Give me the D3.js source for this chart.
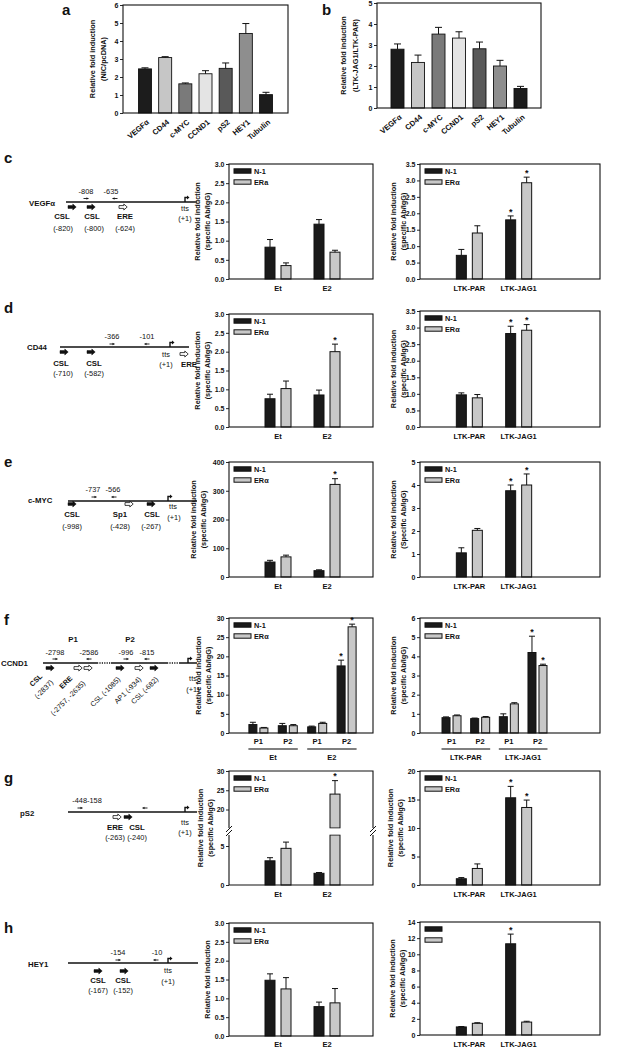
<!DOCTYPE html>
<html><head><meta charset="utf-8">
<script src="https://cdn.jsdelivr.net/npm/d3@7"></script>
<style>body{margin:0;background:#fff}svg{display:block;opacity:0.995}text{font-family:"Liberation Sans",Arial,Helvetica,sans-serif;fill:#111}</style>
</head><body><svg id="c" width="636" height="1050"></svg>
<script>
// ---------------- DATA ----------------
const genes = ["VEGFα","CD44","c-MYC","CCND1","pS2","HEY1","Tubulin"];
const geneColors = ["#1c1c1c","#c6c6c6","#7a7a7a","#e4e4e4","#595959","#8e8e8e","#1c1c1c"];
const nicValues = [2.45,3.08,1.62,2.18,2.48,4.42,1.02];
const nicErrors = [0.06,0.05,0.05,0.17,0.3,0.55,0.13];
const jagValues = [2.8,2.17,3.52,3.33,2.82,2.0,0.93];
const jagErrors = [0.25,0.35,0.32,0.3,0.32,0.27,0.1];

const seriesNames = ["N-1","ERα"];
const seriesNamesVegf = ["N-1","ERa"];
const treatCats = ["Et","E2"];
const cellCats = ["LTK-PAR","LTK-JAG1"];
const promoterCats = ["P1","P2"];

// c VEGFα
const vegfTreatN1 = [0.83,1.43], vegfTreatN1Err = [0.2,0.12];
const vegfTreatER = [0.35,0.7],  vegfTreatERErr = [0.07,0.05];
const vegfCellN1 = [0.72,1.8],   vegfCellN1Err = [0.18,0.12];
const vegfCellER = [1.4,2.93],   vegfCellERErr = [0.22,0.17];
// d CD44
const cd44TreatN1 = [0.75,0.85], cd44TreatN1Err = [0.12,0.13];
const cd44TreatER = [1.02,2.0],  cd44TreatERErr = [0.2,0.2];
const cd44CellN1 = [0.97,2.82],  cd44CellN1Err = [0.06,0.22];
const cd44CellER = [0.88,2.92],  cd44CellERErr = [0.1,0.17];
// e c-MYC
const mycTreatN1 = [52,22],   mycTreatN1Err = [6,3];
const mycTreatER = [70,322],  mycTreatERErr = [6,20];
const mycCellN1 = [1.05,3.75], mycCellN1Err = [0.22,0.25];
const mycCellER = [2.03,4.0],  mycCellERErr = [0.08,0.48];
// f CCND1 (Et P1, Et P2, E2 P1, E2 P2) / (PAR P1, PAR P2, JAG1 P1, JAG1 P2)
const ccndTreatN1 = [2.2,1.9,1.6,17.5],  ccndTreatN1Err = [0.6,0.6,0.2,1.5];
const ccndTreatER = [1.3,1.9,2.5,27.7],  ccndTreatERErr = [0.15,0.3,0.3,0.7];
const ccndCellN1 = [0.8,0.75,0.85,4.2],  ccndCellN1Err = [0.04,0.03,0.15,0.85];
const ccndCellER = [0.9,0.82,1.52,3.52], ccndCellERErr = [0.04,0.04,0.06,0.07];
// g pS2
const ps2TreatN1 = [3.1,1.5],  ps2TreatN1Err = [0.4,0.1];
const ps2TreatER = [4.7,24],   ps2TreatERErr = [0.8,3.5];
const ps2CellN1 = [1.1,15.3],  ps2CellN1Err = [0.2,2.0];
const ps2CellER = [2.9,13.6],  ps2CellERErr = [0.8,1.3];
// h HEY1
const heyTreatN1 = [1.48,0.78], heyTreatN1Err = [0.17,0.12];
const heyTreatER = [1.25,0.88], heyTreatERErr = [0.3,0.38];
const heyCellN1 = [1.0,11.3],   heyCellN1Err = [0.05,1.2];
const heyCellER = [1.45,1.6],   heyCellERErr = [0.07,0.1];

// significance stars [N-1 flags, ERα flags]
const vegfCellStars = [[0,1],[0,1]];
const cd44TreatStars = [[0,0],[0,1]];
const cd44CellStars = [[0,1],[0,1]];
const mycTreatStars = [[0,0],[0,1]];
const mycCellStars = [[0,1],[0,1]];
const ccndTreatStars = [[0,0,0,1],[0,0,0,1]];
const ccndCellStars = [[0,0,0,1],[0,0,0,1]];
const ps2TreatStars = [[0,0],[0,1]];
const ps2CellStars = [[0,1],[0,1]];
const heyCellStars = [[0,1],[0,0]];

// tick values
const ticks05to30 = [0,0.5,1,1.5,2,2.5,3];
const ticks05to35 = [0,0.5,1,1.5,2,2.5,3,3.5];

// ---------------- DRAWING ----------------
const svg = d3.select("#c");
const INK = "#111";
const SER_FILL = ["#1a1a1a","#c8c8c8"];

function T(x,y,str,o={}){
  const t = svg.append("text").attr("x",x).attr("y",y).attr("dy","0.35em").text(str)
    .attr("font-size",o.size||7.3).attr("font-weight",o.weight||"normal")
    .attr("text-anchor",o.anchor||"middle");
  if(o.rotate!=null) t.attr("transform",`rotate(${o.rotate},${x},${y})`);
  return t;
}

function yAxis(scale, x, ticks, fmt){
  const g = svg.append("g").attr("transform",`translate(${x},0)`)
    .call(d3.axisLeft(scale).tickValues(ticks).tickFormat(fmt).tickSize(3).tickSizeOuter(0).tickPadding(1.5));
  g.select(".domain").remove();
  g.selectAll(".tick line").attr("stroke",INK).attr("stroke-width",0.9);
  g.selectAll(".tick text").attr("font-size",7).attr("font-weight","bold").attr("fill",INK)
    .attr("font-family",'"Liberation Sans",Arial,sans-serif');
  return g;
}

function yTitle(lines, xs, cy){
  lines.forEach((l,i)=>T(xs[i], cy, l, {size:7.3, weight:"bold", rotate:-90}));
}

function errBar(g, cx, yTop, yErr, cap){
  g.append("line").attr("x1",cx).attr("x2",cx).attr("y1",yTop).attr("y2",yErr).attr("stroke",INK).attr("stroke-width",1);
  g.append("line").attr("x1",cx-cap).attr("x2",cx+cap).attr("y1",yErr).attr("y2",yErr).attr("stroke",INK).attr("stroke-width",1);
}

function frame(l,t,r,b){
  svg.append("rect").attr("x",l).attr("y",t).attr("width",r-l).attr("height",b-t)
    .attr("fill","none").attr("stroke",INK).attr("stroke-width",1.1);
}

function panelLetter(x,y,s){ T(x,y,s,{size:15,weight:"bold",anchor:"start"}); }

// simple single-series bar chart (a, b)
function simpleChart(o){
  const x = d3.scalePoint().domain(genes).range([o.left,o.right]).padding(o.pad);
  const y = d3.scaleLinear().domain([0,o.max]).range([o.bottom,o.top]);
  const g = svg.append("g");
  g.selectAll("rect").data(genes).join("rect")
    .attr("x",d=>x(d)-6.5).attr("width",13)
    .attr("y",(d,i)=>y(o.vals[i])).attr("height",(d,i)=>o.bottom-y(o.vals[i]))
    .attr("fill",(d,i)=>geneColors[i]).attr("stroke",INK).attr("stroke-width",0.9);
  genes.forEach((d,i)=>errBar(g, x(d), y(o.vals[i]), y(o.vals[i]+o.errs[i]), 3.5));
  frame(o.left,o.top,o.right,o.bottom);
  yAxis(y, o.left, d3.range(0,o.max+1), d3.format("d"));
  genes.forEach(d=>T(x(d)+3, o.bottom+8, d, {size:7.6, weight:"bold", anchor:"end", rotate:-40}));
  yTitle(o.title, o.titleX, (o.top+o.bottom)/2);
}

// grouped two-series chart
function groupedChart(o){
  const x = d3.scalePoint().domain(o.cats).range(o.xRange).padding(o.pad);
  const y = d3.scaleLinear().domain(o.yDomain).range([o.bottom,o.top]);
  const g = svg.append("g");
  const bw = o.bw||10, off = o.off||8;
  [o.n1,o.er].forEach((vals,s)=>{
    const errs = s===0?o.n1e:o.ere;
    const dx = s===0?-off:off;
    g.append("g").selectAll("rect").data(o.cats).join("rect")
      .attr("x",d=>x(d)+dx-bw/2).attr("width",bw)
      .attr("y",(d,i)=>y(vals[i])).attr("height",(d,i)=>o.bottom-y(vals[i]))
      .attr("fill",SER_FILL[s]).attr("stroke",INK).attr("stroke-width",1);
    o.cats.forEach((d,i)=>{
      const cx = x(d)+dx;
      errBar(g, cx, y(vals[i]), y(vals[i]+errs[i]), 3);
      if(o.stars && o.stars[s][i]) T(cx, y(vals[i]+errs[i])-4.5, "*", {size:9, weight:"bold"});
    });
  });
  frame(o.left,o.top,o.right,o.bottom);
  yAxis(y, o.left, o.ticks, o.fmt);
  yTitle(o.title, o.titleX, (o.top+o.bottom)/2);
  legend(o.left, o.top, o.legendText!==false, o.names||seriesNames);
  if(o.catLabels) o.cats.forEach((d,i)=>T(x(d), o.bottom+(o.labelDy||9), o.catLabels[i], {size:7.5, weight:"bold"}));
  return x;
}

function legend(left, top, withText, names){
  names.forEach((n,s)=>{
    const yy = top+7+s*11;
    svg.append("rect").attr("x",left+5).attr("y",yy-2.2).attr("width",17).attr("height",4.4)
      .attr("fill",SER_FILL[s]).attr("stroke",INK).attr("stroke-width",1);
    if(withText) T(left+25, yy, n, {size:7.3, weight:"bold", anchor:"start"});
  });
}

const fmt1 = d3.format(".1f"), fmt0 = d3.format("d");
const MID = {left:229, right:373, xRange:[229,376], pad:1};
const RGT = {left:420, right:600, xRange:[420,568], pad:1};
const specTitle = ["Relative fold induction","(specific Ab/IgG)"];

// ---- a, b ----
panelLetter(62,10,"a");
simpleChart({left:123,right:288,top:5,bottom:113,pad:1.09,max:6,vals:nicValues,errs:nicErrors,
  title:["Relative fold induction","(NIC/pcDNA)"], titleX:[92,103]});
panelLetter(322,10,"b");
simpleChart({left:377,right:541,top:3,bottom:108,pad:1,max:5,vals:jagValues,errs:jagErrors,
  title:["Relative fold induction","(LTK-JAG1/LTK-PAR)"], titleX:[343,355]});

// ---- rows ----
function rowCharts(r){
  groupedChart(Object.assign({}, MID, {top:r.top,bottom:r.bottom,cats:treatCats,catLabels:treatCats,
    n1:r.tn1,n1e:r.tn1e,er:r.ter,ere:r.tere,stars:r.tstars,yDomain:r.tDomain,ticks:r.tTicks,fmt:r.tFmt,
    title:r.tTitle||specTitle,titleX:r.tTitleX||[197,207],names:r.tNames}));
  groupedChart(Object.assign({}, RGT, {top:r.rTop||r.top,bottom:r.bottom,cats:cellCats,catLabels:cellCats,
    n1:r.cn1,n1e:r.cn1e,er:r.cer,ere:r.cere,stars:r.cstars,yDomain:r.cDomain,ticks:r.cTicks,fmt:r.cFmt,
    title:r.cTitle||specTitle,titleX:[393,403],legendText:r.cLegendText}));
}

rowCharts({top:164,bottom:279,tn1:vegfTreatN1,tn1e:vegfTreatN1Err,ter:vegfTreatER,tere:vegfTreatERErr,
  tDomain:[0,3],tTicks:ticks05to30,tFmt:fmt1,tNames:seriesNamesVegf,
  cn1:vegfCellN1,cn1e:vegfCellN1Err,cer:vegfCellER,cere:vegfCellERErr,cstars:vegfCellStars,
  cDomain:[0,3.5],cTicks:ticks05to35,cFmt:fmt1});
rowCharts({top:314,bottom:427,rTop:311,tn1:cd44TreatN1,tn1e:cd44TreatN1Err,ter:cd44TreatER,tere:cd44TreatERErr,tstars:cd44TreatStars,
  tDomain:[0,3],tTicks:ticks05to30,tFmt:fmt1,
  cn1:cd44CellN1,cn1e:cd44CellN1Err,cer:cd44CellER,cere:cd44CellERErr,cstars:cd44CellStars,
  cDomain:[0,3.5],cTicks:ticks05to35,cFmt:fmt1});
rowCharts({top:462,bottom:577,tn1:mycTreatN1,tn1e:mycTreatN1Err,ter:mycTreatER,tere:mycTreatERErr,tstars:mycTreatStars,
  tDomain:[0,400],tTicks:[0,100,200,300,400],tFmt:fmt0,tTitleX:[193,203],
  cn1:mycCellN1,cn1e:mycCellN1Err,cer:mycCellER,cere:mycCellERErr,cstars:mycCellStars,
  cDomain:[0,5],cTicks:[0,1,2,3,4,5],cFmt:fmt0,cTitle:["Relative fold induction","(Specific Ab/IgG)"]});

// f row (promoter subgroups)
const fKeysT = ["Et-P1","Et-P2","E2-P1","E2-P2"];
const fKeysC = ["PAR-P1","PAR-P2","JAG1-P1","JAG1-P2"];
function fChart(base, keys, groups, n1,n1e,er,ere,stars,domain,ticks,titleX){
  const x = groupedChart(Object.assign({}, base, {top:618,bottom:733,cats:keys,
    n1:n1,n1e:n1e,er:er,ere:ere,stars:stars,yDomain:domain,ticks:ticks,fmt:fmt0,
    title:specTitle,titleX:titleX,bw:8,off:5.5}));
  keys.forEach((k,i)=>T(x(k), 741, promoterCats[i%2], {size:7.5, weight:"bold"}));
  groups.forEach((gname,j)=>{
    const a = x(keys[2*j]), b = x(keys[2*j+1]);
    svg.append("line").attr("x1",a-10).attr("x2",b+10).attr("y1",749).attr("y2",749).attr("stroke","#555").attr("stroke-width",1.6);
    T((a+b)/2, 757, gname, {size:7.5, weight:"bold"});
  });
}
fChart({left:229,right:373,xRange:[229,376],pad:1}, fKeysT, treatCats,
  ccndTreatN1,ccndTreatN1Err,ccndTreatER,ccndTreatERErr,ccndTreatStars,[0,30],[0,5,10,15,20,25,30],[198,208]);
fChart({left:420,right:600,xRange:[420,569],pad:1.1}, fKeysC, cellCats,
  ccndCellN1,ccndCellN1Err,ccndCellER,ccndCellERErr,ccndCellStars,[0,6],[0,1,2,3,4,5,6],[393,403]);

// g row: middle chart with broken axis
(function(){
  const L=229,R=373,TOP=771,BOT=885,gapTop=828,gapBot=835;
  const x = d3.scalePoint().domain(treatCats).range([229,376]).padding(1);
  const yLow = d3.scaleLinear().domain([0,5]).range([BOT,846]);
  const yHigh = d3.scaleLinear().domain([20,30]).range([809.5,TOP]);
  const lowMax = yLow.invert(gapBot), highMin = yHigh.invert(gapTop);
  const Y = v => v<=lowMax ? yLow(v) : yHigh(Math.max(v,highMin));
  const g = svg.append("g");
  [ps2TreatN1, ps2TreatER].forEach((vals,s)=>{
    const errs = s===0?ps2TreatN1Err:ps2TreatERErr, dx = s===0?-8:8;
    treatCats.forEach((c,i)=>{
      const cx = x(c)+dx, v = vals[i];
      if(v<=lowMax){
        g.append("rect").attr("x",cx-5).attr("width",10).attr("y",yLow(v)).attr("height",BOT-yLow(v))
          .attr("fill",SER_FILL[s]).attr("stroke",INK).attr("stroke-width",1);
      } else {
        g.append("rect").attr("x",cx-5).attr("width",10).attr("y",gapBot).attr("height",BOT-gapBot)
          .attr("fill",SER_FILL[s]).attr("stroke",INK).attr("stroke-width",1);
        g.append("rect").attr("x",cx-5).attr("width",10).attr("y",yHigh(v)).attr("height",gapTop-yHigh(v))
          .attr("fill",SER_FILL[s]).attr("stroke",INK).attr("stroke-width",1);
        g.append("rect").attr("x",cx-6).attr("width",12).attr("y",gapTop+0.6).attr("height",gapBot-gapTop-1.2).attr("fill","#fff");
      }
      errBar(g, cx, Y(v), Y(v+errs[i]), 3);
      if(ps2TreatStars[s][i]) T(cx, Y(v+errs[i])-4.5, "*", {size:9, weight:"bold"});
    });
  });
  svg.append("path").attr("fill","none").attr("stroke",INK).attr("stroke-width",1.1)
    .attr("d",`M${L},${gapTop}V${TOP}H${R}V${gapTop}M${L},${gapBot}V${BOT}H${R}V${gapBot}`);
  [L,R].forEach(xx=>{
    [0,4].forEach(k=>svg.append("line").attr("x1",xx-3).attr("x2",xx+3).attr("y1",gapBot+1-k).attr("y2",gapTop-2-k+4)
      .attr("stroke",INK).attr("stroke-width",1));
  });
  yAxis(yLow, L, [0,5], fmt0);
  yAxis(yHigh, L, [20,25,30], fmt0);
  yTitle(specTitle, [200,210], (TOP+BOT)/2);
  legend(L, TOP, true, seriesNames);
  treatCats.forEach(c=>T(x(c), BOT+9, c, {size:7.5, weight:"bold"}));
})();
groupedChart(Object.assign({}, RGT, {top:771,bottom:885,cats:cellCats,catLabels:cellCats,
  n1:ps2CellN1,n1e:ps2CellN1Err,er:ps2CellER,ere:ps2CellERErr,stars:ps2CellStars,
  yDomain:[0,20],ticks:[0,5,10,15,20],fmt:fmt0,title:specTitle,titleX:[390,400]}));

// h row
groupedChart(Object.assign({}, MID, {top:923,bottom:1036,cats:treatCats,catLabels:treatCats,labelDy:8,
  n1:heyTreatN1,n1e:heyTreatN1Err,er:heyTreatER,ere:heyTreatERErr,
  yDomain:[0,3],ticks:ticks05to30,fmt:fmt1,title:["Relative fold induction"],titleX:[207]}));
groupedChart(Object.assign({}, RGT, {top:922,bottom:1035,cats:cellCats,catLabels:cellCats,labelDy:9,
  n1:heyCellN1,n1e:heyCellN1Err,er:heyCellER,ere:heyCellERErr,stars:heyCellStars,
  yDomain:[0,14],ticks:[0,2,4,6,8,10,12,14],fmt:fmt0,title:specTitle,titleX:[392,402],legendText:false}));

// ---------------- PROMOTER DIAGRAMS ----------------
function blockArrow(x,y,filled){
  svg.append("path").attr("d",`M${x-4},${y-1.4}H${x+0.8}V${y-3}L${x+4.2},${y}L${x+0.8},${y+3}V${y+1.4}H${x-4}Z`)
    .attr("fill",filled?"#111":"#fff").attr("stroke","#111").attr("stroke-width",filled?0.5:0.8);
}
function primer(x,y,dir){
  const h = dir>0 ? x+2.5 : x-2.5, t = dir>0 ? x-2.5 : x+2.5;
  svg.append("line").attr("x1",t).attr("x2",h).attr("y1",y).attr("y2",y).attr("stroke","#111").attr("stroke-width",0.9);
  svg.append("path").attr("d",`M${h},${y}L${h-dir*2},${y-1.3}L${h-dir*2},${y+1.3}Z`).attr("fill","#111");
}
function tts(x,y){
  svg.append("path").attr("d",`M${x},${y}V${y-4.5}H${x+2.5}`).attr("fill","none").attr("stroke","#111").attr("stroke-width",1.4);
  svg.append("path").attr("d",`M${x+4.5},${y-4.5}L${x+2},${y-6.5}L${x+2},${y-2.5}Z`).attr("fill","#111");
}
function gline(x1,x2,y){ svg.append("line").attr("x1",x1).attr("x2",x2).attr("y1",y).attr("y2",y).attr("stroke","#111").attr("stroke-width",1.5); }
const B = {size:7.8, weight:"bold"}, N = {size:7.4};

// c VEGFα
panelLetter(4,158,"c");
T(29,203,"VEGFα",Object.assign({anchor:"start"},B));
gline(66,197,202);
T(86,191,"-808",N); T(111,191,"-635",N);
primer(86,198.5,1); primer(115,198.5,-1);
blockArrow(72,207,true); blockArrow(91,207,true); blockArrow(123,207,false);
tts(185,202);
T(62,216,"CSL",B); T(92,216,"CSL",B); T(125,216,"ERE",B); T(185,208.5,"tts",N); T(185,218,"(+1)",N);
T(63,228,"(-820)",N); T(94,228,"(-800)",N); T(125,228,"(-624)",N);

// d CD44
panelLetter(4,308,"d");
T(27,347,"CD44",Object.assign({anchor:"start"},B));
gline(60,189,347);
T(112,336,"-366",N); T(147,336,"-101",N);
primer(112,344,1); primer(147,344,-1);
blockArrow(64,352,true); blockArrow(91,352,true); blockArrow(184,354,false);
tts(170,347);
T(61,363,"CSL",B); T(94,363,"CSL",B); T(166,354,"tts",N); T(166,364,"(+1)",N); T(189,364,"ERE",B);
T(63,373,"(-710)",N); T(94,373,"(-582)",N);

// e c-MYC
panelLetter(4,462,"e");
T(28,500,"c-MYC",Object.assign({anchor:"start"},B));
gline(68,197,501);
T(93,489,"-737",N); T(113,489,"-566",N);
primer(94,497,1); primer(114,497,-1);
blockArrow(72,504,true); blockArrow(129,504,false); blockArrow(151,504,true);
tts(168,501);
T(72,514,"CSL",B); T(120,514,"Sp1",B); T(152,514,"CSL",B); T(173,506,"tts",N); T(174,517,"(+1)",N);
T(72,526,"(-998)",N); T(120,526,"(-428)",N); T(151,526,"(-267)",N);

// f CCND1
panelLetter(4,620,"f");
T(1,663,"CCND1",Object.assign({anchor:"start"},B));
gline(43,97,663); gline(111,167,663); gline(180,197,663);
[[97,111],[167,180]].forEach(([a,b])=>svg.append("line").attr("x1",a).attr("x2",b).attr("y1",663).attr("y2",663)
  .attr("stroke","#111").attr("stroke-width",1.5).attr("stroke-dasharray","1.2,1.2"));
T(73,639,"P1",B); T(130,639,"P2",B);
T(55,652,"-2798",N); T(89,652,"-2586",N); T(126,652,"-996",N); T(147,652,"-815",N);
primer(55,659,1); primer(89,659,-1); primer(126,659,1); primer(147,659,-1);
blockArrow(50,668,true); blockArrow(78,668,false); blockArrow(88,668,false);
blockArrow(120,668,true); blockArrow(139,668,false); blockArrow(154,668,true);
tts(188,663);
T(193,678,"tts",N); T(193,689,"(+1)",N);
const rot = {size:7.2, anchor:"end", rotate:-45};
T(41,675,"CSL",Object.assign({},rot,{weight:"bold"})); T(52,681,"(-2837)",rot);
T(71,677,"ERE",Object.assign({},rot,{weight:"bold"})); T(84,682,"(-2757, -2635)",rot);
T(119,678,"CSL (-1085)",rot); T(140,678,"AP1 (-934)",rot); T(157,678,"CSL (-682)",rot);

// g pS2
panelLetter(4,778,"g");
T(20,813,"pS2",Object.assign({anchor:"start"},B));
gline(68,197,812);
T(87,800,"-448-158",N);
primer(80,808,1); primer(145,808,-1);
blockArrow(117,817,false); blockArrow(128,817,true);
tts(185,812);
T(115,827,"ERE",B); T(137,827,"CSL",B); T(185,822,"tts",N); T(185,832,"(+1)",N);
T(115,837,"(-263)",N); T(137,837,"(-240)",N);

// h HEY1
panelLetter(4,928,"h");
T(28,964,"HEY1",Object.assign({anchor:"start"},B));
gline(68,198,963);
T(118,952,"-154",N); T(157,952,"-10",N);
primer(118,960,1); primer(156,960,-1);
blockArrow(98,971,true); blockArrow(124,971,true);
tts(168,963);
T(98,980,"CSL",B); T(123,980,"CSL",B); T(168,970,"tts",N); T(168,981,"(+1)",N);
T(98,990,"(-167)",N); T(123,990,"(-152)",N);
</script></body></html>
